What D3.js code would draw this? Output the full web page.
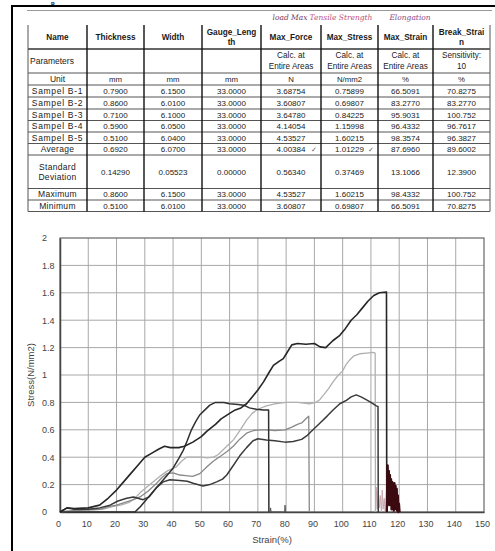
<!DOCTYPE html>
<html><head><meta charset="utf-8">
<script src="https://cdn.jsdelivr.net/npm/d3@7"></script>
<style>
html,body{margin:0;padding:0;background:#fff;}
svg{display:block;}
</style></head>
<body>
<svg id="c" width="495" height="551"></svg>
<script>
// ---------------- DATA ----------------
const headers = ["Name","Thickness","Width","Gauge_Leng\nth","Max_Force","Max_Stress","Max_Strain","Break_Strai\nn"];
const paramRow = ["Parameters","","","","Calc. at\nEntire Areas","Calc. at\nEntire Areas","Calc. at\nEntire Areas","Sensitivity:\n10"];
const unitRow = ["Unit","mm","mm","mm","N","N/mm2","%","%"];
const rowNames = ["Sampel B-1","Sampel B-2","Sampel B-3","Sampel B-4","Sampel B-5","Average","Standard\nDeviation","Maximum","Minimum"];
const thickness = ["0.7900","0.8600","0.7100","0.5900","0.5100","0.6920","0.14290","0.8600","0.5100"];
const widthVals = ["6.1500","6.0100","6.1000","6.0500","6.0400","6.0700","0.05523","6.1500","6.0100"];
const gaugeLength = ["33.0000","33.0000","33.0000","33.0000","33.0000","33.0000","0.00000","33.0000","33.0000"];
const maxForce = ["3.68754","3.60807","3.64780","4.14054","4.53527","4.00384","0.56340","4.53527","3.60807"];
const maxStress = ["0.75899","0.69807","0.84225","1.15998","1.60215","1.01229","0.37469","1.60215","0.69807"];
const maxStrain = ["66.5091","83.2770","95.9031","96.4332","98.3574","87.6960","13.1066","98.4332","66.5091"];
const breakStrain = ["70.8275","83.2770","100.752","96.7617","96.3827","89.6002","12.3900","100.752","70.8275"];
const notes = ["load Max","Tensile Strength","Elongation"];
const titleFragment = "p";

const xTicks = [0,10,20,30,40,50,60,70,80,90,100,110,120,130,140,150];
const yTicks = [0,0.2,0.4,0.6,0.8,1,1.2,1.4,1.6,1.8,2];
const xLabel = "Strain(%)";
const yLabel = "Stress(N/mm2)";

// [strain %, stress N/mm2]
const curveB5 = [[0,0],[2.5,0.03],[5,0.025],[10,0.03],[14,0.05],[17,0.1],[20,0.16],[22.5,0.22],[25,0.28],[27.5,0.34],[30,0.4],[32.5,0.43],[35,0.46],[37,0.48],[39,0.47],[42,0.47],[44,0.48],[47,0.51],[50,0.55],[52,0.59],[55,0.64],[57,0.68],[60,0.72],[62,0.745],[64,0.76],[66,0.79],[68,0.84],[70,0.89],[72,0.95],[74,1.02],[75.5,1.07],[77.5,1.1],[79,1.12],[80.5,1.17],[82,1.22],[84,1.23],[87,1.225],[90,1.23],[92,1.205],[94,1.2],[96.5,1.25],[99,1.29],[101,1.34],[103,1.4],[105,1.44],[107,1.49],[109,1.54],[111,1.58],[113,1.6],[115.5,1.605],[115.6,0]];
const curveB1 = [[0,0],[26.5,0],[28.5,0.04],[30.5,0.09],[33,0.15],[35.5,0.21],[38,0.27],[40,0.32],[42,0.39],[43.6,0.45],[45,0.52],[46.5,0.6],[48,0.66],[49.5,0.71],[51,0.74],[53,0.78],[55,0.8],[58,0.8],[60,0.79],[63,0.785],[65,0.78],[67,0.76],[69.5,0.75],[72,0.745],[73.8,0.745],[73.9,0]];
const curveB3 = [[0,0],[2.5,0.03],[5,0.02],[10,0.02],[14,0.03],[17.7,0.05],[20.5,0.08],[23.6,0.1],[26,0.11],[29.4,0.09],[31.5,0.11],[34.2,0.18],[36.5,0.22],[38.9,0.235],[42.4,0.23],[45,0.225],[47.1,0.21],[50.6,0.19],[53,0.2],[55.4,0.22],[57.5,0.24],[59,0.27],[61,0.33],[63.6,0.41],[66,0.47],[68.3,0.52],[70,0.535],[73,0.525],[76,0.52],[79.6,0.51],[82.5,0.515],[85.5,0.53],[87.5,0.56],[89.5,0.6],[92,0.65],[94.5,0.7],[96.6,0.745],[99,0.79],[101.3,0.815],[103,0.84],[104.8,0.855],[106.5,0.84],[108.3,0.82],[110,0.8],[111.9,0.775],[112.5,0.77],[112.6,0]];
const curveB2 = [[0,0],[5,0.01],[10,0.015],[14.1,0.02],[17,0.04],[20,0.05],[23,0.07],[26,0.09],[28.3,0.11],[31,0.15],[34.2,0.21],[36,0.25],[37.7,0.28],[40,0.285],[42.4,0.27],[44.5,0.265],[46.9,0.26],[49.5,0.28],[52,0.33],[54.2,0.37],[57,0.41],[59,0.44],[61.3,0.48],[63.5,0.53],[66,0.575],[68.5,0.595],[71,0.6],[73,0.6],[76,0.595],[79.6,0.6],[82,0.62],[84,0.64],[85.5,0.65],[87,0.68],[88,0.7],[88.2,0]];
const curveB4 = [[0,0],[5,0.01],[10,0.015],[15,0.02],[18.6,0.04],[21.5,0.05],[24.5,0.07],[26.5,0.1],[28.3,0.14],[31.8,0.2],[35.3,0.26],[38,0.3],[41.2,0.33],[43,0.37],[44.7,0.4],[47,0.4],[50,0.4],[52,0.395],[54.2,0.4],[56,0.42],[58,0.46],[60,0.5],[61.5,0.53],[63.5,0.59],[66,0.67],[68,0.72],[70,0.75],[73,0.775],[76,0.79],[80,0.8],[84,0.8],[88.3,0.79],[90.5,0.8],[91.9,0.82],[93.5,0.86],[95,0.9],[96.6,0.95],[98.5,1.0],[100,1.03],[101.3,1.08],[102.5,1.11],[104,1.14],[106,1.155],[108.5,1.16],[110.7,1.165],[111.5,1.16],[111.6,0]];
const tailDark = [[115.6,0],[115.9,0.34],[116.1,0.08],[116.3,0.3],[116.5,0.05],[116.7,0.27],[116.9,0.1],[117.1,0.24],[117.3,0.02],[117.5,0.22],[117.7,0.06],[117.9,0.2],[118.1,0.01],[118.3,0.21],[118.5,0.03],[118.7,0.19],[118.9,0.02],[119.1,0.17],[119.3,0.01],[119.5,0.12],[119.7,0],[119.9,0.06],[120.1,0]];
const tailLight = [[111.6,0],[111.9,0.18],[112.2,0.02],[112.6,0.15],[113,0.03],[113.3,0.12],[113.7,0],[114,0.16],[114.3,0.02],[114.7,0.1],[115,0]];
const tailB1 = [[74.3,0],[74.5,0.03],[74.7,0],[79.5,0],[79.6,0.05],[79.8,0]];

// ---------------- DRAW ----------------
const svg = d3.select("#c");
svg.append("rect").attr("width",495).attr("height",551).attr("fill","#fff");

// frame
svg.append("text").attr("x",51).attr("y",5).attr("font-family","Liberation Sans, Arial").attr("font-weight","bold").attr("font-size",6).attr("fill","#000").text(titleFragment);
svg.append("line").attr("x1",12).attr("x2",495).attr("y1",6).attr("y2",6).attr("stroke","#000").attr("stroke-width",2);
svg.append("line").attr("x1",12).attr("x2",12).attr("y1",5).attr("y2",551).attr("stroke","#000").attr("stroke-width",2);
svg.append("line").attr("x1",27).attr("x2",492).attr("y1",10.5).attr("y2",10.5).attr("stroke","#999").attr("stroke-width",1.2);

// table
const colEdges = [28, 87, 144, 202, 261, 321, 378, 433, 490];
const rowEdges = [25, 49, 73, 85, 97, 109, 120.5, 132, 143.5, 155, 188.5, 200, 211.5];
const tbl = svg.append("g").attr("font-family","Liberation Sans, Arial");
const nameCols = [thickness, widthVals, gaugeLength, maxForce, maxStress, maxStrain, breakStrain];

function cellText(txt, ci, ri, opts){
  const lines = txt.split("\n");
  const cx = (colEdges[ci]+colEdges[ci+1])/2;
  const cy = (rowEdges[ri]+rowEdges[ri+1])/2;
  const lh = opts.lh || 10;
  lines.forEach((l,i)=>{
    const t = tbl.append("text")
      .attr("x", opts.left ? colEdges[ci]+2 : cx)
      .attr("y", cy + (i-(lines.length-1)/2)*lh)
      .attr("dy","0.35em")
      .attr("text-anchor", opts.left ? "start" : "middle")
      .attr("font-size", opts.size)
      .attr("font-weight", opts.bold ? "bold" : "normal")
      .attr("fill","#1a1a1a")
      .text(l);
    if (opts.narrow) t.attr("font-family","Liberation Sans Narrow, Arial Narrow, Liberation Sans");
    if (opts.ls) t.attr("letter-spacing", opts.ls);
  });
}
headers.forEach((h,ci)=>cellText(h,ci,0,{size:8.2,bold:true,lh:10}));
paramRow.forEach((h,ci)=>{ if(h) cellText(h,ci,1,{size:ci===0?8.5:8.2,narrow:ci>0,left:ci===0,lh:11}); });
unitRow.forEach((h,ci)=>cellText(h,ci,2,{size:ci===0?8.5:7.8,narrow:ci>0}));
rowNames.forEach((n,ri)=>{
  cellText(n,0,ri+3,{size:8.5,lh:10,ls:ri<5?0.7:0.3});
  nameCols.forEach((col,ci)=>cellText(col[ri],ci+1,ri+3,{size:8,narrow:true}));
});
// check marks on averages
[4,5].forEach(ci=>{
  tbl.append("text").attr("x",colEdges[ci+1]-10).attr("y",(rowEdges[8]+rowEdges[9])/2).attr("dy","0.35em")
    .attr("font-size",7).attr("fill","#666").text("✓");
});
// grid of table
rowEdges.forEach((ry,i)=>{
  if(i===0) return;
  tbl.append("line").attr("x1",colEdges[0]).attr("x2",colEdges[colEdges.length-1]).attr("y1",ry).attr("y2",ry)
    .attr("stroke", i===1 ? "#333":"#555").attr("stroke-width", i===1?1.4:1);
});
colEdges.forEach((cx,i)=>{
  tbl.append("line").attr("x1",cx).attr("x2",cx).attr("y1",rowEdges[0]).attr("y2",rowEdges[rowEdges.length-1])
    .attr("stroke",(i===0||i===colEdges.length-1)?"#555":"#111").attr("stroke-width",(i===0||i===colEdges.length-1)?1:1.4);
});
// handwritten notes
const noteX = [290, 341, 410];
const noteC = ["#7a3a5a","#c0507a","#8a4a8a"];
notes.forEach((n,i)=>{
  svg.append("text").attr("x",noteX[i]).attr("y",20).attr("text-anchor","middle")
    .attr("font-family","DejaVu Serif, Liberation Serif").attr("font-style","italic")
    .attr("font-size",7.5).attr("fill",noteC[i]).text(n);
});

// chart
const x = d3.scaleLinear().domain([0,150]).range([60,484]);
const y = d3.scaleLinear().domain([0,2]).range([512,238]);
const ch = svg.append("g");
ch.append("g").selectAll("line").data(xTicks.slice(1,-1)).join("line")
  .attr("x1",d=>x(d)).attr("x2",d=>x(d)).attr("y1",y(0)).attr("y2",y(2))
  .attr("stroke","#a8a8a8").attr("stroke-width",1);
ch.append("g").selectAll("line").data(yTicks.slice(1,-1)).join("line")
  .attr("x1",x(0)).attr("x2",x(150)).attr("y1",d=>y(d)).attr("y2",d=>y(d))
  .attr("stroke","#a8a8a8").attr("stroke-width",1);
ch.append("rect").attr("x",x(0)).attr("y",y(2)).attr("width",x(150)-x(0)).attr("height",y(0)-y(2))
  .attr("fill","none").attr("stroke","#666").attr("stroke-width",1.2);

const xAxis = ch.append("g").attr("transform",`translate(0,${y(0)})`)
  .call(d3.axisBottom(x).tickValues(xTicks).tickSize(0).tickPadding(9).tickFormat(d3.format("d")));
xAxis.select(".domain").attr("stroke","#444").attr("stroke-width",1.5);
xAxis.selectAll("text").attr("font-family","Liberation Sans, Arial").attr("font-size",9).attr("fill","#444").attr("dx","-2");

const yAxis = ch.append("g").attr("transform",`translate(${x(0)},0)`)
  .call(d3.axisLeft(y).tickValues(yTicks).tickSize(0).tickFormat(d=>String(+d.toFixed(1))));
yAxis.select(".domain").attr("stroke","#444").attr("stroke-width",1.5);
yAxis.selectAll("text").attr("font-family","Liberation Sans, Arial").attr("font-size",9).attr("fill","#444")
  .attr("text-anchor","start").attr("x",-18);

ch.append("text").attr("x",(x(0)+x(150))/2).attr("y",543).attr("text-anchor","middle")
  .attr("font-family","Liberation Sans, Arial").attr("font-size",9.5).attr("fill","#444").text(xLabel);
ch.append("text").attr("transform",`translate(34,${(y(0)+y(2))/2}) rotate(-90)`).attr("text-anchor","middle")
  .attr("font-family","Liberation Sans, Arial").attr("font-size",9.5).attr("fill","#444").text(yLabel);

const line = d3.line().x(d=>x(d[0])).y(d=>y(d[1]));
const series = [
  {d:tailLight, c:"#c8a8b0", w:1},
  {d:curveB4, c:"#b0b0b0", w:1.3},
  {d:curveB2, c:"#888", w:1.3},
  {d:curveB3, c:"#3a3a3a", w:1.5},
  {d:curveB1, c:"#303030", w:1.5},
  {d:tailB1, c:"#555", w:1},
  {d:curveB5, c:"#262626", w:1.6},
  {d:tailDark, c:"#3a0a10", w:2.4}
];
ch.append("g").selectAll("path").data(series).join("path")
  .attr("d",s=>line(s.d)).attr("fill","none").attr("stroke",s=>s.c).attr("stroke-width",s=>s.w)
  .attr("stroke-linejoin","round");
</script>
</body></html>
